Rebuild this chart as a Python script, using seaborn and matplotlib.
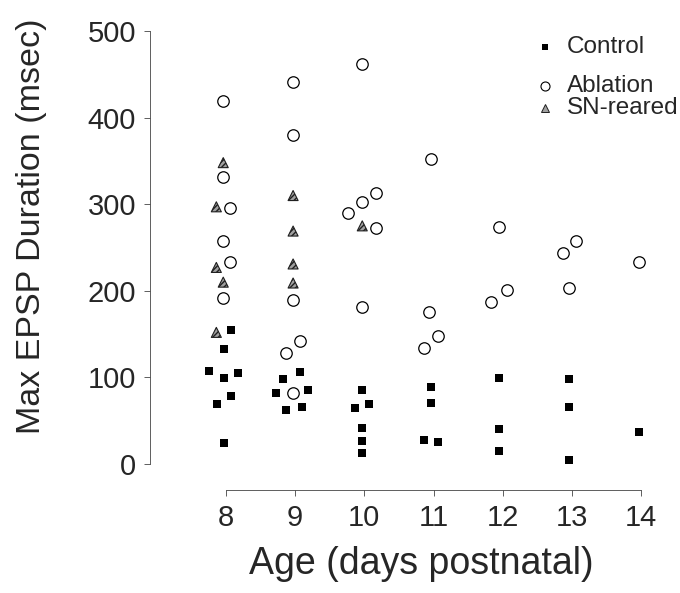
import matplotlib
matplotlib.use("Agg")
import matplotlib.pyplot as plt
import seaborn as sns
import pandas as pd

# ---- data ----
control_x = [8.07, 7.97, 7.76, 7.97, 8.17, 8.07, 7.87, 7.97,
             9.07, 8.82, 8.72, 9.19, 8.87, 9.10,
             9.97, 10.07, 9.87, 9.97, 9.97, 9.97,
             10.96, 10.96, 10.86, 11.06,
             11.95, 11.95, 11.95,
             12.96, 12.96, 12.96,
             13.97]
control_y = [155, 133, 107, 99, 105, 79, 69, 24,
             106, 98, 82, 86, 62, 66,
             85, 69, 65, 42, 27, 13,
             89, 71, 28, 26,
             99, 41, 15,
             98, 66, 5,
             37]

ablation_x = [7.96, 7.96, 8.06, 7.96, 8.06, 7.96,
              8.97, 8.97, 8.97, 9.07, 8.87, 8.97,
              9.97, 10.17, 9.97, 9.77, 10.17, 9.97,
              10.96, 10.93, 11.06, 10.86,
              11.95, 12.06, 11.83,
              13.06, 12.87, 12.96,
              13.97]
ablation_y = [419, 331, 296, 257, 233, 192,
              441, 380, 189, 142, 128, 82,
              462, 313, 303, 290, 272, 181,
              352, 176, 148, 134,
              274, 201, 187,
              258, 244, 203,
              233]

sn_x = [7.96, 7.86, 7.86, 7.96, 7.86,
        8.97, 8.97, 8.97, 8.97,
        9.97]
sn_y = [348, 297, 227, 210, 152,
        310, 269, 231, 209,
        275]

x_ticks = [8, 9, 10, 11, 12, 13, 14]
y_ticks = [0, 100, 200, 300, 400, 500]
legend_labels = ["Control", "Ablation", "SN-reared"]

# ---- style ----
sns.set_style("ticks")
plt.rcParams["font.family"] = ["Liberation Sans", "DejaVu Sans"]

fig = plt.figure(figsize=(6.8, 5.93), dpi=100)
ax = fig.add_axes([150/680, 103/593, 530/680, 470/593])

df_c = pd.DataFrame({"age": control_x, "dur": control_y})
df_a = pd.DataFrame({"age": ablation_x, "dur": ablation_y})
df_s = pd.DataFrame({"age": sn_x, "dur": sn_y})

sns.scatterplot(data=df_c, x="age", y="dur", marker="s", s=28,
                color="black", linewidth=0, ax=ax, zorder=3)
sns.scatterplot(data=df_a, x="age", y="dur", marker="o", s=68,
                facecolor="white", edgecolor="black", linewidth=0.9,
                ax=ax, zorder=3)
sns.scatterplot(data=df_s, x="age", y="dur", marker="^", s=52,
                facecolor="#a0a0a0", edgecolor="#202020", linewidth=0.8,
                hatch="//////", ax=ax, zorder=4)

ax.set_xlim(6.901, 14.564)
ax.set_ylim(-30.0, 512.7)
ax.set_xticks(x_ticks)
ax.set_yticks(y_ticks)
ax.set_xticklabels([str(t) for t in x_ticks], fontsize=21)
ax.set_yticklabels([str(t) for t in y_ticks], fontsize=21)
ax.tick_params(axis="both", length=4, width=0.6, color="#444444", pad=6)

for side in ["top", "right"]:
    ax.spines[side].set_visible(False)
ax.spines["bottom"].set_bounds(8, 14)
ax.spines["left"].set_bounds(0, 500)
for side in ["bottom", "left"]:
    ax.spines[side].set_linewidth(0.6)
    ax.spines[side].set_color("#444444")

ax.set_xlabel("Age (days postnatal)", fontsize=27)
ax.set_ylabel("Max EPSP Duration (msec)", fontsize=24.5)
ax.xaxis.set_label_coords((421 - 150) / 530, (490 - 546) / 470)
ax.yaxis.set_label_coords((47 - 150) / 530, (490 - 226) / 470)

# ---- legend ----
leg_y = [593 - 47, 593 - 86, 593 - 108]
leg_styles = [
    dict(marker="s", ms=4, mfc="black", mec="black", mew=0),
    dict(marker="o", ms=6.5, mfc="white", mec="black", mew=0.8),
    dict(marker="^", ms=6, mfc="#a0a0a0", mec="#202020", mew=0.7),
]
for lab, yy, st in zip(legend_labels, leg_y, leg_styles):
    fig.lines.append(plt.Line2D([545/680], [yy/593], transform=fig.transFigure,
                                linestyle="none", **st))
    fig.text(567/680, yy/593, lab, fontsize=17.5, va="center", ha="left")

fig.savefig("out.png", dpi=100)
